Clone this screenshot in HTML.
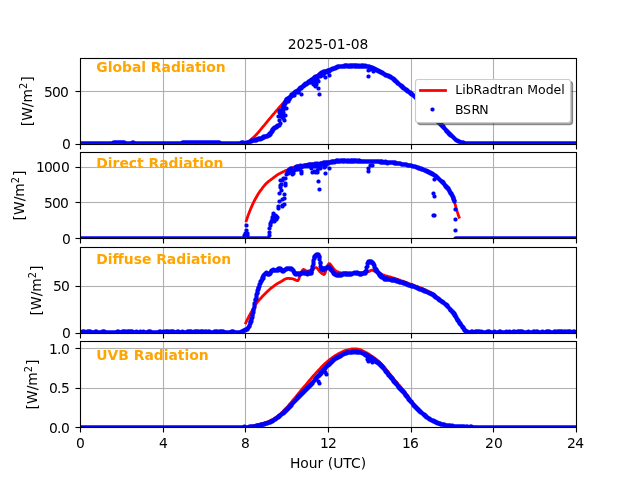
<!DOCTYPE html>
<html lang="en"><head><meta charset="utf-8"><title>2025-01-08 radiation</title>
<style>html,body{margin:0;padding:0;background:#fff;overflow:hidden}svg{display:block;will-change:transform}</style>
</head><body>
<svg width="640" height="480" viewBox="0 0 640 480" font-family="'DejaVu Sans','Liberation Sans',sans-serif" font-size="13.889" fill="#000">
<rect width="640" height="480" fill="#fff"/>
<defs>
<clipPath id="c0"><rect x="80.00" y="57.60" width="496.00" height="85.95"/></clipPath>
<clipPath id="c1"><rect x="80.00" y="152.15" width="496.00" height="85.95"/></clipPath>
<clipPath id="c2"><rect x="80.00" y="246.70" width="496.00" height="85.95"/></clipPath>
<clipPath id="c3"><rect x="80.00" y="341.25" width="496.00" height="85.95"/></clipPath>
<marker id="m" markerUnits="userSpaceOnUse" markerWidth="6" markerHeight="6" viewBox="-3 -3 6 6" refX="0" refY="0" overflow="visible"><polygon points="2.072,0.412 1.756,1.174 1.174,1.756 0.412,2.072 -0.412,2.072 -1.174,1.756 -1.756,1.174 -2.072,0.412 -2.072,-0.412 -1.756,-1.174 -1.174,-1.756 -0.412,-2.072 0.412,-2.072 1.174,-1.756 1.756,-1.174 2.072,-0.412" fill="#00f"/></marker>
</defs>
<g>
<path d="M163.5 59 V144 M245.5 59 V144 M328.5 59 V144 M411.5 59 V144 M493.5 59 V144" stroke="#b0b0b0" stroke-width="1.111" fill="none"/>
<rect x="81" y="90.945" width="495" height="1.111" fill="#b0b0b0"/>
<g clip-path="url(#c0)">
<path d="M245.4 143.4 L246.4 142.9 L247.4 142.4 L248.4 141.7 L249.4 140.9 L250.4 140.1 L251.4 139.3 L252.4 138.4 L253.4 137.5 L254.4 136.6 L255.4 135.6 L256.4 134.5 L257.4 133.4 L258.4 132.3 L259.4 131.1 L260.4 129.9 L261.4 128.7 L262.4 127.4 L263.4 126.2 L264.4 125.1 L265.4 123.9 L266.4 122.7 L267.4 121.5 L268.4 120.2 L269.4 119.0 L270.4 117.8 L271.4 116.6 L272.4 115.4 L273.4 114.2 L274.4 113.1 L275.4 111.9 L276.4 110.7 L277.4 109.6 L278.4 108.4 L279.4 107.3 L280.4 106.2 L281.4 105.1 L282.4 104.0 L283.4 102.9 L284.4 101.8 L285.4 100.7 L286.4 99.7 L287.4 98.7 L288.4 97.7 L289.4 96.8 L290.4 96.0 L291.4 95.1 L292.4 94.3 L293.4 93.5 L294.4 92.7 L295.4 91.9 L296.4 91.0 L297.4 90.2 L298.4 89.5 L299.4 88.7 L300.4 87.9 L301.4 87.1 L302.4 86.3 L303.4 85.6 L304.4 84.8 L305.4 84.1 L306.4 83.3 L307.4 82.6 L308.4 81.9 L309.4 81.1 L310.4 80.4 L311.4 79.7 L312.4 79.1 L313.4 78.5 L314.4 77.8 L315.4 77.2 L316.4 76.4 L317.4 75.5 L318.4 74.4 L319.4 73.7 L320.4 73.1 L321.4 72.7 L322.4 72.3 L323.4 71.9 L324.4 71.6 L325.4 71.3 L326.4 71.1 L327.4 70.8 L328.4 70.5 L329.4 70.2 L330.4 69.9 L331.4 69.5 L332.4 69.2 L333.4 68.8 L334.4 68.5 L335.4 68.1 L336.4 67.7 L337.4 67.3 L338.4 66.9 L339.4 66.6 L340.4 66.5 L341.4 66.3 L342.4 66.2 L343.4 66.2 L344.4 66.1 L345.4 66.0 L346.4 66.0 L347.4 66.0 L348.4 66.0 L349.4 66.0 L350.4 66.0 L351.4 66.0 L352.4 66.0 L353.4 66.0 L354.4 66.0 L355.4 66.0 L356.4 66.0 L357.4 66.0 L358.4 66.0 L359.4 66.0 L360.4 66.0 L361.4 66.0 L362.4 66.0 L363.4 66.1 L364.4 66.1 L365.4 66.2 L366.4 66.3 L367.4 66.4 L368.4 66.6 L369.4 66.9 L370.4 67.2 L371.4 67.5 L372.4 67.9 L373.4 68.3 L374.4 68.8 L375.4 69.3 L376.4 69.8 L377.4 70.3 L378.4 70.9 L379.4 71.4 L380.4 72.0 L381.4 72.5 L382.4 73.1 L383.4 73.7 L384.4 74.2 L385.4 74.7 L386.4 75.1 L387.4 75.6 L388.4 76.0 L389.4 76.5 L390.4 77.0 L391.4 77.6 L392.4 78.3 L393.4 79.1 L394.4 80.0 L395.4 80.8 L396.4 81.7 L397.4 82.6 L398.4 83.4 L399.4 84.3 L400.4 85.2 L401.4 86.1 L402.4 86.9 L403.4 87.7 L404.4 88.5 L405.4 89.3 L406.4 90.0 L407.4 90.8 L408.4 91.5 L409.4 92.3 L410.4 93.1 L411.4 93.9 L412.4 94.7 L413.4 95.6 L414.4 96.5 L415.4 97.4 L416.4 98.3 L417.4 99.3 L418.4 100.3 L419.4 101.4 L420.4 102.4 L421.4 103.5 L422.4 104.5 L423.4 105.6 L424.4 106.7 L425.4 107.8 L426.4 108.8 L427.4 109.9 L428.4 111.0 L429.4 112.0 L430.4 113.1 L431.4 114.2 L432.4 115.2 L433.4 116.3 L434.4 117.4 L435.4 118.5 L436.4 119.6 L437.4 120.7 L438.4 121.8 L439.4 122.8 L440.4 123.9 L441.4 125.1 L442.4 126.2 L443.4 127.3 L444.4 128.4 L445.4 129.5 L446.4 130.6 L447.4 131.6 L448.4 132.6 L449.4 133.6 L450.4 134.6 L451.4 135.6 L452.4 136.5 L453.4 137.4 L454.4 138.4 L455.4 139.3 L456.4 140.1 L457.4 140.7 L458.4 141.3 L459.4 141.7 L460.4 142.2 L461.4 142.5 L462.4 142.8 L463.4 143.0 L464.4 143.2 L465.4 143.3 L466.0 143.4" stroke="#f00" stroke-width="2.78" fill="none" stroke-linejoin="round" stroke-linecap="square"/>
<path d="M80.5 143.5 81.5 143.5 82.5 143.5 83.5 143.5 84.5 143.5 85.5 143.5 86.5 143.5 87.5 143.5 88.5 143.5 89.5 143.5 90.5 143.5 91.5 143.5 92.5 143.5 93.5 143.5 94.5 143.5 95.5 143.5 96.5 143.5 97.5 143.5 98.5 143.5 99.5 143.5 100.5 143.5 101.5 143.5 102.5 143.5 103.5 143.5 104.5 143.5 105.5 143.5 106.5 143.5 107.5 143.5 108.5 143.5 109.5 143.5 110.5 143.5 111.5 143.5 112.5 143.5 113.5 142.5 114.5 142.5 115.5 142.5 116.5 142.5 117.5 142.5 118.5 142.5 119.5 142.5 120.5 142.5 121.5 142.5 122.5 142.5 123.5 142.5 124.5 142.5 124.5 143.5 125.5 143.5 126.5 143.5 127.5 143.5 128.5 143.5 129.5 143.5 130.5 143.5 131.5 143.5 132.5 142.5 133.5 142.5 134.5 143.5 135.5 143.5 136.5 143.5 137.5 143.5 138.5 143.5 139.5 143.5 140.5 143.5 141.5 143.5 142.5 143.5 143.5 143.5 144.5 143.5 145.5 143.5 146.5 143.5 147.5 143.5 148.5 143.5 149.5 143.5 150.5 143.5 151.5 143.5 152.5 143.5 153.5 143.5 154.5 143.5 155.5 143.5 156.5 143.5 157.5 143.5 158.5 143.5 159.5 143.5 160.5 143.5 161.5 143.5 162.5 143.5 163.5 143.5 164.5 143.5 165.5 143.5 166.5 143.5 167.5 143.5 168.5 143.5 169.5 143.5 170.5 143.5 171.5 143.5 172.5 143.5 173.5 143.5 174.5 143.5 175.5 143.5 176.5 143.5 177.5 143.5 178.5 143.5 179.5 143.5 180.5 143.5 181.5 143.5 182.5 142.5 183.5 142.5 184.5 142.5 185.5 142.5 186.5 142.5 187.5 142.5 188.5 142.5 189.5 142.5 190.5 142.5 191.5 142.5 192.5 142.5 193.5 142.5 194.5 142.5 195.5 142.5 196.5 142.5 197.5 142.5 198.5 142.5 199.5 142.5 200.5 142.5 201.5 142.5 202.5 142.5 203.5 142.5 204.5 142.5 205.5 142.5 206.5 142.5 207.5 142.5 208.5 142.5 209.5 142.5 210.5 142.5 211.5 142.5 212.5 142.5 213.5 142.5 214.5 142.5 215.5 142.5 216.5 142.5 217.5 142.5 218.5 142.5 219.5 142.5 220.5 143.5 221.5 143.5 222.5 143.5 223.5 143.5 224.5 143.5 225.5 143.5 226.5 143.5 227.5 143.5 228.5 143.5 229.5 143.5 230.5 143.5 231.5 143.5 232.5 143.5 233.5 143.5 234.5 143.5 235.5 143.5 236.5 143.5 237.5 143.5 238.5 143.5 239.5 143.5 240.5 143.5 241.5 142.5 242.5 142.5 243.5 142.5 243.5 143.5 244.5 143.5 245.5 143.5 246.5 143.5 246.5 142.5 247.5 143.5 247.5 142.5 248.5 142.5 249.5 142.5 250.5 142.5 250.5 141.5 251.5 141.5 251.5 140.5 252.5 140.5 253.5 140.5 254.5 140.5 255.5 140.5 255.5 139.5 256.5 140.5 256.5 139.5 257.5 139.5 258.5 139.5 258.5 138.5 259.5 138.5 260.5 138.5 260.5 139.5 261.5 138.5 262.5 138.5 262.5 137.5 263.5 137.5 263.5 136.5 264.5 137.5 264.5 136.5 265.5 136.5 266.5 136.5 267.5 136.5 267.5 135.5 268.5 135.5 269.5 135.5 269.5 133.5 270.5 134.5 270.5 133.5 271.5 132.5 271.5 131.5 272.5 131.5 272.5 130.5 272.5 129.5 273.5 129.5 273.5 128.5 274.5 128.5 274.5 127.5 275.5 127.5 276.5 127.5 276.5 126.5 277.5 126.5 277.5 125.5 278.5 125.5 279.5 125.5 279.5 112.5 280.5 116.5 280.5 112.5 280.5 123.5 281.5 111.5 281.5 112.5 282.5 108.5 282.5 116.5 282.5 113.5 283.5 107.5 283.5 109.5 283.5 105.5 284.5 108.5 284.5 105.5 284.5 103.5 285.5 102.5 285.5 103.5 285.5 101.5 286.5 99.5 286.5 99.5 287.5 101.5 287.5 98.5 287.5 100.5 288.5 98.5 288.5 101.5 289.5 99.5 289.5 98.5 289.5 97.5 290.5 97.5 290.5 96.5 291.5 96.5 291.5 94.5 292.5 95.5 292.5 94.5 293.5 95.5 293.5 94.5 293.5 93.5 294.5 93.5 294.5 92.5 294.5 95.5 295.5 91.5 295.5 92.5 296.5 91.5 297.5 91.5 297.5 92.5 297.5 90.5 298.5 91.5 298.5 92.5 298.5 90.5 299.5 89.5 299.5 88.5 300.5 88.5 300.5 87.5 301.5 88.5 301.5 87.5 302.5 86.5 303.5 86.5 303.5 85.5 304.5 84.5 304.5 85.5 305.5 84.5 305.5 83.5 306.5 83.5 306.5 84.5 307.5 83.5 308.5 82.5 308.5 81.5 309.5 81.5 309.5 82.5 310.5 82.5 310.5 80.5 310.5 81.5 311.5 79.5 311.5 81.5 312.5 81.5 312.5 79.5 313.5 80.5 313.5 78.5 313.5 79.5 314.5 78.5 314.5 77.5 315.5 77.5 315.5 76.5 316.5 77.5 316.5 76.5 317.5 76.5 318.5 75.5 318.5 76.5 319.5 74.5 320.5 73.5 320.5 76.5 321.5 72.5 321.5 74.5 321.5 73.5 322.5 74.5 322.5 73.5 323.5 73.5 323.5 74.5 323.5 71.5 324.5 72.5 324.5 71.5 324.5 73.5 325.5 71.5 326.5 71.5 327.5 72.5 327.5 70.5 328.5 70.5 329.5 71.5 329.5 70.5 330.5 69.5 331.5 69.5 332.5 69.5 332.5 68.5 333.5 68.5 334.5 68.5 335.5 68.5 335.5 67.5 336.5 67.5 337.5 67.5 337.5 66.5 338.5 66.5 339.5 66.5 340.5 66.5 341.5 66.5 342.5 66.5 343.5 66.5 344.5 66.5 344.5 65.5 345.5 66.5 345.5 65.5 346.5 65.5 347.5 65.5 347.5 66.5 348.5 66.5 349.5 65.5 349.5 66.5 350.5 66.5 350.5 65.5 351.5 66.5 351.5 65.5 352.5 65.5 352.5 66.5 353.5 65.5 354.5 65.5 354.5 66.5 355.5 65.5 355.5 66.5 356.5 66.5 356.5 65.5 357.5 65.5 357.5 66.5 358.5 66.5 359.5 66.5 359.5 65.5 360.5 66.5 361.5 65.5 361.5 66.5 362.5 66.5 362.5 65.5 363.5 65.5 363.5 66.5 364.5 66.5 365.5 66.5 365.5 65.5 366.5 66.5 367.5 66.5 368.5 66.5 369.5 67.5 369.5 66.5 370.5 67.5 371.5 67.5 372.5 67.5 372.5 68.5 373.5 68.5 374.5 68.5 374.5 69.5 375.5 69.5 376.5 69.5 376.5 70.5 377.5 70.5 378.5 70.5 378.5 71.5 379.5 71.5 380.5 71.5 380.5 72.5 381.5 72.5 382.5 72.5 382.5 73.5 383.5 73.5 384.5 74.5 385.5 74.5 385.5 75.5 386.5 75.5 387.5 75.5 388.5 75.5 388.5 76.5 389.5 76.5 390.5 76.5 390.5 77.5 391.5 77.5 392.5 78.5 393.5 78.5 393.5 79.5 394.5 79.5 394.5 80.5 395.5 80.5 395.5 81.5 396.5 81.5 397.5 82.5 397.5 83.5 398.5 83.5 399.5 84.5 400.5 85.5 401.5 85.5 401.5 86.5 402.5 86.5 402.5 87.5 403.5 87.5 403.5 88.5 404.5 88.5 405.5 89.5 406.5 89.5 406.5 90.5 407.5 90.5 407.5 91.5 408.5 91.5 409.5 92.5 410.5 92.5 410.5 93.5 411.5 93.5 411.5 94.5 412.5 94.5 413.5 95.5 414.5 96.5 415.5 96.5 415.5 97.5 416.5 98.5 417.5 99.5 418.5 100.5 419.5 101.5 419.5 102.5 420.5 102.5 421.5 103.5 422.5 103.5 422.5 104.5 423.5 105.5 423.5 106.5 424.5 106.5 424.5 107.5 425.5 107.5 425.5 108.5 426.5 108.5 426.5 109.5 427.5 109.5 427.5 110.5 428.5 110.5 428.5 111.5 429.5 111.5 429.5 112.5 430.5 112.5 430.5 113.5 431.5 113.5 431.5 114.5 432.5 114.5 432.5 115.5 433.5 115.5 433.5 116.5 434.5 117.5 435.5 118.5 436.5 119.5 436.5 120.5 437.5 120.5 437.5 121.5 438.5 121.5 438.5 122.5 439.5 122.5 439.5 123.5 440.5 123.5 440.5 124.5 441.5 124.5 441.5 125.5 442.5 125.5 442.5 126.5 443.5 126.5 443.5 127.5 444.5 128.5 445.5 129.5 446.5 130.5 446.5 131.5 447.5 131.5 448.5 132.5 448.5 133.5 449.5 133.5 449.5 134.5 450.5 134.5 450.5 135.5 451.5 135.5 452.5 136.5 453.5 137.5 454.5 138.5 455.5 139.5 456.5 140.5 457.5 140.5 458.5 141.5 459.5 141.5 459.5 142.5 460.5 142.5 461.5 142.5 462.5 142.5 463.5 142.5 463.5 143.5 464.5 143.5 465.5 143.5 466.5 143.5 467.5 143.5 468.5 143.5 469.5 143.5 470.5 143.5 471.5 143.5 472.5 143.5 473.5 143.5 474.5 143.5 475.5 143.5 476.5 143.5 477.5 143.5 478.5 143.5 479.5 143.5 480.5 143.5 481.5 143.5 482.5 143.5 483.5 143.5 484.5 143.5 485.5 143.5 486.5 143.5 487.5 143.5 488.5 143.5 489.5 143.5 490.5 143.5 491.5 143.5 492.5 143.5 493.5 143.5 494.5 143.5 495.5 143.5 496.5 143.5 497.5 143.5 498.5 143.5 499.5 143.5 500.5 143.5 501.5 143.5 502.5 143.5 503.5 143.5 504.5 143.5 505.5 143.5 506.5 143.5 507.5 143.5 508.5 143.5 509.5 143.5 510.5 143.5 511.5 143.5 512.5 143.5 513.5 143.5 514.5 143.5 515.5 143.5 516.5 143.5 517.5 143.5 518.5 143.5 519.5 143.5 520.5 143.5 521.5 143.5 522.5 143.5 523.5 143.5 524.5 143.5 525.5 143.5 526.5 143.5 527.5 143.5 528.5 143.5 529.5 143.5 530.5 143.5 531.5 143.5 532.5 143.5 533.5 143.5 534.5 143.5 535.5 143.5 536.5 143.5 537.5 143.5 538.5 143.5 539.5 143.5 540.5 143.5 541.5 143.5 542.5 143.5 543.5 143.5 544.5 143.5 545.5 143.5 546.5 143.5 547.5 143.5 548.5 143.5 549.5 143.5 550.5 143.5 551.5 143.5 552.5 143.5 553.5 143.5 554.5 143.5 555.5 143.5 556.5 143.5 557.5 143.5 558.5 143.5 559.5 143.5 560.5 143.5 561.5 143.5 562.5 143.5 563.5 143.5 564.5 143.5 565.5 143.5 566.5 143.5 567.5 143.5 568.5 143.5 569.5 143.5 570.5 143.5 571.5 143.5 572.5 143.5 573.5 143.5 574.5 143.5 575.5 143.5 576.5 143.5 301.5 94.5 318.5 88.5 319.5 94.5 315.5 85.5 313.5 84.5 318.5 81.5 325.5 77.5 329.5 75.5 322.5 75.5 279.5 110.5 280.5 114.5 278.5 116.5 283.5 112.5 286.5 108.5 283.5 118.5 279.5 120.5 284.5 120.5 282.5 117.5 285.5 115.5 368.5 76.5 368.5 70.5 373.5 71.5 370.5 69.5 313.5 79.5 315.5 81.5 312.5 82.5 316.5 84.5 315.5 86.5 314.5 77.5 317.5 79.5" fill="none" stroke="none" marker-start="url(#m)" marker-mid="url(#m)" marker-end="url(#m)"/>
</g>
<path d="M80.5 145 V149.5 M163.5 145 V149.5 M245.5 145 V149.5 M328.5 145 V149.5 M411.5 145 V149.5 M493.5 145 V149.5 M576.5 145 V149.5" stroke="#000" stroke-width="1.111" fill="none"/>
<rect x="75.5" y="143.945" width="4.5" height="1.111"/>
<rect x="75.5" y="90.945" width="4.5" height="1.111"/>
<rect x="80.5" y="58.5" width="496" height="86" fill="none" stroke="#000" stroke-width="1.111" stroke-linejoin="miter"/>
<text x="62" y="148.8">0</text>
<text x="44 52 60" y="96.8">500</text>
</g>
<g>
<path d="M163.5 153 V238 M245.5 153 V238 M328.5 153 V238 M411.5 153 V238 M493.5 153 V238" stroke="#b0b0b0" stroke-width="1.111" fill="none"/>
<rect x="81" y="201.945" width="495" height="1.111" fill="#b0b0b0"/>
<rect x="81" y="166.945" width="495" height="1.111" fill="#b0b0b0"/>
<g clip-path="url(#c1)">
<path d="M246.3 220.7 L247.3 217.8 L248.3 214.9 L249.3 212.3 L250.3 209.8 L251.3 207.4 L252.3 205.1 L253.3 202.9 L254.3 200.9 L255.3 199.0 L256.3 197.2 L257.3 195.5 L258.3 193.8 L259.3 192.3 L260.3 190.9 L261.3 189.6 L262.3 188.2 L263.3 186.9 L264.3 185.7 L265.3 184.5 L266.3 183.4 L267.3 182.5 L268.3 181.6 L269.3 180.9 L270.3 180.2 L271.3 179.4 L272.3 178.7 L273.3 177.9 L274.3 177.1 L275.3 176.3 L276.3 175.6 L277.3 174.9 L278.3 174.3 L279.3 173.7 L280.3 173.2 L281.3 172.6 L282.3 172.2 L283.3 171.7 L284.3 171.3 L285.3 170.8 L286.3 170.4 L287.3 169.9 L288.3 169.4 L289.3 168.9 L290.3 168.5 L291.3 168.1 L292.3 167.7 L293.3 167.3 L294.3 167.0 L295.3 166.7 L296.3 166.4 L297.3 166.1 L298.3 165.9 L299.3 165.6 L300.3 165.4 L301.3 165.3 L302.3 165.1 L303.3 165.0 L304.3 164.8 L305.3 164.7 L306.3 164.6 L307.3 164.5 L308.3 164.4 L309.3 164.3 L310.3 164.2 L311.3 164.1 L312.3 164.0 L313.3 163.9 L314.3 163.8 L315.3 163.7 L316.3 163.6 L317.3 163.5 L318.3 163.3 L319.3 163.2 L320.3 163.0 L321.3 162.9 L322.3 162.8 L323.3 162.6 L324.3 162.5 L325.3 162.3 L326.3 162.2 L327.3 162.1 L328.3 161.9 L329.3 161.8 L330.3 161.6 L331.3 161.5 L332.3 161.3 L333.3 161.2 L334.3 161.2 L335.3 161.1 L336.3 161.1 L337.3 161.1 L338.3 161.1 L339.3 161.1 L340.3 161.1 L341.3 161.1 L342.3 161.1 L343.3 161.1 L344.3 161.1 L345.3 161.1 L346.3 161.1 L347.3 161.1 L348.3 161.1 L349.3 161.1 L350.3 161.1 L351.3 161.0 L352.3 161.0 L353.3 161.0 L354.3 161.0 L355.3 161.0 L356.3 161.0 L357.3 161.0 L358.3 161.0 L359.3 161.1 L360.3 161.1 L361.3 161.1 L362.3 161.2 L363.3 161.2 L364.3 161.2 L365.3 161.3 L366.3 161.3 L367.3 161.3 L368.3 161.4 L369.3 161.4 L370.3 161.5 L371.3 161.5 L372.3 161.6 L373.3 161.6 L374.3 161.6 L375.3 161.7 L376.3 161.7 L377.3 161.7 L378.3 161.8 L379.3 161.8 L380.3 161.9 L381.3 161.9 L382.3 161.9 L383.3 162.0 L384.3 162.0 L385.3 162.1 L386.3 162.2 L387.3 162.2 L388.3 162.3 L389.3 162.4 L390.3 162.5 L391.3 162.6 L392.3 162.7 L393.3 162.8 L394.3 162.9 L395.3 163.0 L396.3 163.2 L397.3 163.3 L398.3 163.4 L399.3 163.6 L400.3 163.7 L401.3 163.9 L402.3 164.1 L403.3 164.2 L404.3 164.4 L405.3 164.6 L406.3 164.8 L407.3 165.0 L408.3 165.2 L409.3 165.4 L410.3 165.6 L411.3 165.9 L412.3 166.1 L413.3 166.4 L414.3 166.6 L415.3 166.9 L416.3 167.2 L417.3 167.5 L418.3 167.8 L419.3 168.2 L420.3 168.5 L421.3 168.9 L422.3 169.2 L423.3 169.6 L424.3 170.0 L425.3 170.4 L426.3 170.9 L427.3 171.3 L428.3 171.8 L429.3 172.3 L430.3 172.8 L431.3 173.4 L432.3 173.9 L433.3 174.5 L434.3 175.2 L435.3 175.8 L436.3 176.6 L437.3 177.3 L438.3 178.1 L439.3 179.0 L440.3 180.0 L441.3 181.0 L442.3 182.1 L443.3 183.2 L444.3 184.3 L445.3 185.4 L446.3 186.6 L447.3 187.8 L448.3 189.1 L449.3 190.6 L450.3 192.1 L451.3 193.7 L452.3 195.6 L453.3 198.0 L454.3 201.3 L455.3 204.8 L456.3 208.5 L457.3 211.9 L458.3 215.0 L459.1 217.2" stroke="#f00" stroke-width="2.78" fill="none" stroke-linejoin="round" stroke-linecap="square"/>
<path d="M80.5 238.5 81.5 238.5 82.5 238.5 83.5 238.5 84.5 238.5 85.5 238.5 86.5 238.5 87.5 238.5 88.5 238.5 89.5 238.5 90.5 238.5 91.5 238.5 92.5 238.5 93.5 238.5 94.5 238.5 95.5 238.5 96.5 238.5 97.5 238.5 98.5 238.5 99.5 238.5 100.5 238.5 101.5 238.5 102.5 238.5 103.5 238.5 104.5 238.5 105.5 238.5 106.5 238.5 107.5 238.5 108.5 238.5 109.5 238.5 110.5 238.5 111.5 238.5 112.5 238.5 113.5 238.5 114.5 238.5 115.5 238.5 116.5 238.5 117.5 238.5 118.5 238.5 119.5 238.5 120.5 238.5 121.5 238.5 122.5 238.5 123.5 238.5 124.5 238.5 125.5 238.5 126.5 238.5 127.5 238.5 128.5 238.5 129.5 238.5 130.5 238.5 131.5 238.5 132.5 238.5 133.5 238.5 134.5 238.5 135.5 238.5 136.5 238.5 137.5 238.5 138.5 238.5 139.5 238.5 140.5 238.5 141.5 238.5 142.5 238.5 143.5 238.5 144.5 238.5 145.5 238.5 146.5 238.5 147.5 238.5 148.5 238.5 149.5 238.5 150.5 238.5 151.5 238.5 152.5 238.5 153.5 238.5 154.5 238.5 155.5 238.5 156.5 238.5 157.5 238.5 158.5 238.5 159.5 238.5 160.5 238.5 161.5 238.5 162.5 238.5 163.5 238.5 164.5 238.5 165.5 238.5 166.5 238.5 167.5 238.5 168.5 238.5 169.5 238.5 170.5 238.5 171.5 238.5 172.5 238.5 173.5 238.5 174.5 238.5 175.5 238.5 176.5 238.5 177.5 238.5 178.5 238.5 179.5 238.5 180.5 238.5 181.5 238.5 182.5 238.5 183.5 238.5 184.5 238.5 185.5 238.5 186.5 238.5 187.5 238.5 188.5 238.5 189.5 238.5 190.5 238.5 191.5 238.5 192.5 238.5 193.5 238.5 194.5 238.5 195.5 238.5 196.5 238.5 197.5 238.5 198.5 238.5 199.5 238.5 200.5 238.5 201.5 238.5 202.5 238.5 203.5 238.5 204.5 238.5 205.5 238.5 206.5 238.5 207.5 238.5 208.5 238.5 209.5 238.5 210.5 238.5 211.5 238.5 212.5 238.5 213.5 238.5 214.5 238.5 215.5 238.5 216.5 238.5 217.5 238.5 218.5 238.5 219.5 238.5 220.5 238.5 221.5 238.5 222.5 238.5 223.5 238.5 224.5 238.5 225.5 238.5 226.5 238.5 227.5 238.5 228.5 238.5 229.5 238.5 230.5 238.5 231.5 238.5 232.5 238.5 233.5 238.5 234.5 238.5 235.5 238.5 236.5 238.5 237.5 238.5 238.5 238.5 239.5 238.5 240.5 238.5 241.5 238.5 242.5 238.5 243.5 238.5 244.5 238.5 246.5 225.5 246.5 230.5 245.5 233.5 247.5 233.5 246.5 235.5 244.5 235.5 247.5 235.5 248.5 238.5 249.5 238.5 250.5 238.5 251.5 238.5 252.5 238.5 253.5 238.5 254.5 238.5 255.5 238.5 256.5 238.5 257.5 238.5 258.5 238.5 259.5 238.5 260.5 238.5 261.5 238.5 262.5 238.5 263.5 238.5 264.5 238.5 265.5 238.5 266.5 238.5 267.5 238.5 268.5 238.5 269.5 235.5 269.5 232.5 269.5 228.5 270.5 225.5 270.5 223.5 271.5 221.5 272.5 219.5 272.5 217.5 273.5 215.5 273.5 213.5 274.5 216.5 275.5 215.5 276.5 216.5 276.5 219.5 275.5 219.5 277.5 217.5 274.5 221.5 272.5 221.5 278.5 208.5 278.5 206.5 279.5 201.5 282.5 205.5 284.5 204.5 282.5 206.5 279.5 193.5 284.5 194.5 284.5 198.5 282.5 199.5 281.5 190.5 280.5 187.5 281.5 184.5 280.5 180.5 280.5 185.5 285.5 185.5 285.5 183.5 283.5 178.5 282.5 180.5 285.5 178.5 286.5 174.5 287.5 172.5 288.5 170.5 289.5 169.5 290.5 168.5 291.5 168.5 292.5 171.5 292.5 174.5 293.5 173.5 294.5 170.5 290.5 172.5 288.5 173.5 301.5 171.5 301.5 173.5 295.5 167.5 296.5 166.5 296.5 169.5 296.5 168.5 297.5 168.5 297.5 166.5 297.5 169.5 298.5 166.5 298.5 167.5 299.5 169.5 299.5 168.5 299.5 167.5 300.5 165.5 300.5 167.5 300.5 166.5 301.5 167.5 301.5 166.5 302.5 166.5 303.5 166.5 304.5 165.5 305.5 165.5 305.5 166.5 306.5 165.5 307.5 165.5 307.5 166.5 308.5 164.5 308.5 165.5 309.5 166.5 309.5 164.5 309.5 165.5 310.5 164.5 310.5 165.5 311.5 165.5 311.5 164.5 312.5 164.5 312.5 165.5 313.5 165.5 313.5 164.5 314.5 166.5 314.5 164.5 315.5 166.5 315.5 163.5 315.5 165.5 316.5 164.5 316.5 165.5 317.5 164.5 317.5 163.5 318.5 164.5 319.5 165.5 319.5 164.5 320.5 166.5 320.5 163.5 320.5 165.5 321.5 164.5 321.5 163.5 322.5 163.5 323.5 162.5 323.5 164.5 324.5 163.5 324.5 164.5 324.5 162.5 325.5 163.5 325.5 162.5 325.5 164.5 326.5 163.5 326.5 164.5 326.5 162.5 327.5 162.5 328.5 162.5 328.5 163.5 329.5 162.5 330.5 162.5 331.5 162.5 331.5 161.5 332.5 162.5 332.5 161.5 333.5 161.5 334.5 162.5 334.5 161.5 335.5 161.5 336.5 161.5 336.5 160.5 337.5 161.5 337.5 160.5 338.5 161.5 338.5 160.5 339.5 161.5 340.5 161.5 340.5 160.5 341.5 160.5 342.5 160.5 342.5 161.5 343.5 160.5 343.5 161.5 344.5 160.5 344.5 161.5 345.5 160.5 346.5 161.5 347.5 161.5 347.5 160.5 348.5 161.5 348.5 160.5 349.5 161.5 350.5 161.5 350.5 160.5 351.5 161.5 351.5 160.5 352.5 160.5 352.5 161.5 353.5 161.5 353.5 160.5 354.5 161.5 354.5 160.5 355.5 160.5 356.5 161.5 356.5 160.5 357.5 161.5 358.5 160.5 358.5 161.5 359.5 161.5 359.5 160.5 360.5 161.5 361.5 161.5 362.5 161.5 363.5 161.5 364.5 161.5 365.5 161.5 366.5 161.5 367.5 161.5 368.5 161.5 369.5 161.5 370.5 161.5 371.5 161.5 372.5 161.5 373.5 161.5 374.5 161.5 375.5 161.5 376.5 161.5 377.5 161.5 378.5 161.5 379.5 161.5 380.5 162.5 380.5 161.5 381.5 161.5 381.5 162.5 382.5 162.5 382.5 161.5 383.5 162.5 384.5 162.5 385.5 162.5 385.5 161.5 386.5 162.5 387.5 162.5 388.5 162.5 389.5 162.5 390.5 162.5 391.5 162.5 392.5 162.5 393.5 162.5 394.5 163.5 394.5 162.5 395.5 163.5 395.5 162.5 396.5 163.5 397.5 163.5 398.5 163.5 399.5 163.5 400.5 163.5 401.5 164.5 402.5 164.5 403.5 164.5 404.5 164.5 405.5 164.5 406.5 164.5 407.5 165.5 408.5 165.5 409.5 165.5 410.5 165.5 411.5 165.5 412.5 166.5 413.5 166.5 414.5 166.5 415.5 166.5 416.5 167.5 417.5 167.5 418.5 167.5 418.5 168.5 419.5 168.5 420.5 168.5 421.5 168.5 421.5 169.5 422.5 169.5 423.5 169.5 424.5 170.5 425.5 170.5 426.5 170.5 426.5 171.5 427.5 171.5 428.5 171.5 428.5 172.5 429.5 172.5 430.5 172.5 430.5 173.5 431.5 173.5 432.5 173.5 432.5 174.5 433.5 174.5 434.5 175.5 435.5 175.5 436.5 176.5 436.5 177.5 437.5 177.5 438.5 178.5 439.5 179.5 440.5 180.5 441.5 181.5 442.5 181.5 442.5 182.5 443.5 182.5 443.5 183.5 444.5 184.5 445.5 185.5 445.5 186.5 446.5 186.5 446.5 187.5 447.5 187.5 447.5 188.5 448.5 188.5 448.5 189.5 449.5 190.5 449.5 191.5 450.5 192.5 450.5 193.5 451.5 193.5 451.5 194.5 452.5 195.5 452.5 196.5 453.5 197.5 453.5 198.5 453.5 199.5 454.5 200.5 454.5 201.5 312.5 172.5 315.5 172.5 317.5 172.5 314.5 171.5 317.5 170.5 318.5 181.5 319.5 189.5 325.5 173.5 329.5 168.5 324.5 167.5 318.5 168.5 311.5 168.5 320.5 168.5 325.5 166.5 368.5 168.5 368.5 171.5 372.5 165.5 370.5 165.5 387.5 163.5 434.5 179.5 433.5 193.5 434.5 196.5 433.5 215.5 434.5 215.5 455.5 209.5 455.5 219.5 455.5 230.5 455.5 238.5 456.5 238.5 457.5 238.5 458.5 238.5 459.5 238.5 460.5 238.5 461.5 238.5 462.5 238.5 463.5 238.5 464.5 238.5 465.5 238.5 466.5 238.5 467.5 238.5 468.5 238.5 469.5 238.5 470.5 238.5 471.5 238.5 472.5 238.5 473.5 238.5 474.5 238.5 475.5 238.5 476.5 238.5 477.5 238.5 478.5 238.5 479.5 238.5 480.5 238.5 481.5 238.5 482.5 238.5 483.5 238.5 484.5 238.5 485.5 238.5 486.5 238.5 487.5 238.5 488.5 238.5 489.5 238.5 490.5 238.5 491.5 238.5 492.5 238.5 493.5 238.5 494.5 238.5 495.5 238.5 496.5 238.5 497.5 238.5 498.5 238.5 499.5 238.5 500.5 238.5 501.5 238.5 502.5 238.5 503.5 238.5 504.5 238.5 505.5 238.5 506.5 238.5 507.5 238.5 508.5 238.5 509.5 238.5 510.5 238.5 511.5 238.5 512.5 238.5 513.5 238.5 514.5 238.5 515.5 238.5 516.5 238.5 517.5 238.5 518.5 238.5 519.5 238.5 520.5 238.5 521.5 238.5 522.5 238.5 523.5 238.5 524.5 238.5 525.5 238.5 526.5 238.5 527.5 238.5 528.5 238.5 529.5 238.5 530.5 238.5 531.5 238.5 532.5 238.5 533.5 238.5 534.5 238.5 535.5 238.5 536.5 238.5 537.5 238.5 538.5 238.5 539.5 238.5 540.5 238.5 541.5 238.5 542.5 238.5 543.5 238.5 544.5 238.5 545.5 238.5 546.5 238.5 547.5 238.5 548.5 238.5 549.5 238.5 550.5 238.5 551.5 238.5 552.5 238.5 553.5 238.5 554.5 238.5 555.5 238.5 556.5 238.5 557.5 238.5 558.5 238.5 559.5 238.5 560.5 238.5 561.5 238.5 562.5 238.5 563.5 238.5 564.5 238.5 565.5 238.5 566.5 238.5 567.5 238.5 568.5 238.5 569.5 238.5 570.5 238.5 571.5 238.5 572.5 238.5 573.5 238.5 574.5 238.5 575.5 238.5 576.5 238.5" fill="none" stroke="none" marker-start="url(#m)" marker-mid="url(#m)" marker-end="url(#m)"/>
</g>
<path d="M80.5 239 V243.5 M163.5 239 V243.5 M245.5 239 V243.5 M328.5 239 V243.5 M411.5 239 V243.5 M493.5 239 V243.5 M576.5 239 V243.5" stroke="#000" stroke-width="1.111" fill="none"/>
<rect x="75.5" y="237.945" width="4.5" height="1.111"/>
<rect x="75.5" y="201.945" width="4.5" height="1.111"/>
<rect x="75.5" y="166.945" width="4.5" height="1.111"/>
<rect x="80.5" y="152.5" width="496" height="86" fill="none" stroke="#000" stroke-width="1.111" stroke-linejoin="miter"/>
<text x="62" y="243.8">0</text>
<text x="44 52 60" y="207.8">500</text>
<text x="36 44 52 61" y="171.8">1000</text>
</g>
<g>
<path d="M163.5 248 V333 M245.5 248 V333 M328.5 248 V333 M411.5 248 V333 M493.5 248 V333" stroke="#b0b0b0" stroke-width="1.111" fill="none"/>
<rect x="81" y="285.945" width="495" height="1.111" fill="#b0b0b0"/>
<g clip-path="url(#c2)">
<path d="M245.8 322.8 L246.8 320.7 L247.8 318.6 L248.8 316.7 L249.8 314.8 L250.8 312.9 L251.8 311.2 L252.8 309.4 L253.8 307.6 L254.8 305.9 L255.8 304.4 L256.8 303.0 L257.8 301.7 L258.8 300.4 L259.8 299.3 L260.8 298.2 L261.8 297.1 L262.8 296.1 L263.8 295.1 L264.8 294.1 L265.8 293.1 L266.8 292.1 L267.8 291.1 L268.8 290.2 L269.8 289.3 L270.8 288.4 L271.8 287.6 L272.8 286.8 L273.8 286.1 L274.8 285.4 L275.8 284.7 L276.8 284.0 L277.8 283.4 L278.8 282.8 L279.8 282.3 L280.8 281.7 L281.8 281.1 L282.8 280.5 L283.8 279.8 L284.8 279.3 L285.8 278.8 L286.8 278.5 L287.8 278.4 L288.8 278.4 L289.8 278.5 L290.8 278.6 L291.8 278.7 L292.8 278.8 L293.8 279.2 L294.8 279.6 L295.8 280.1 L296.8 280.5 L297.8 280.6 L298.8 279.2 L299.8 275.8 L300.8 273.0 L301.8 271.2 L302.8 269.8 L303.8 269.4 L304.8 269.9 L305.8 270.6 L306.8 271.2 L307.8 271.2 L308.8 270.9 L309.8 270.4 L310.8 269.9 L311.8 269.4 L312.8 268.7 L313.8 268.1 L314.8 267.7 L315.8 267.5 L316.8 268.0 L317.8 269.0 L318.8 270.3 L319.8 271.6 L320.8 272.5 L321.8 273.4 L322.8 274.1 L323.8 274.6 L324.8 273.9 L325.8 270.8 L326.8 267.6 L327.8 265.3 L328.8 263.6 L329.8 263.6 L330.8 264.8 L331.8 266.4 L332.8 267.7 L333.8 268.9 L334.8 270.0 L335.8 270.9 L336.8 271.5 L337.8 271.9 L338.8 272.3 L339.8 272.5 L340.8 272.7 L341.8 272.8 L342.8 272.9 L343.8 273.0 L344.8 273.0 L345.8 273.1 L346.8 273.1 L347.8 273.1 L348.8 273.1 L349.8 273.1 L350.8 273.1 L351.8 273.1 L352.8 273.1 L353.8 273.1 L354.8 273.1 L355.8 273.1 L356.8 273.1 L357.8 273.1 L358.8 273.1 L359.8 273.1 L360.8 273.1 L361.8 273.0 L362.8 272.8 L363.8 272.6 L364.8 272.4 L365.8 272.2 L366.8 272.1 L367.8 272.0 L368.8 271.7 L369.8 271.0 L370.8 270.3 L371.8 270.2 L372.8 270.4 L373.8 270.8 L374.8 271.1 L375.8 271.4 L376.8 271.8 L377.8 272.1 L378.8 272.6 L379.8 273.1 L380.8 273.6 L381.8 274.2 L382.8 274.7 L383.8 275.1 L384.8 275.5 L385.8 275.8 L386.8 276.1 L387.8 276.4 L388.8 276.6 L389.8 276.9 L390.8 277.2 L391.8 277.5 L392.8 277.8 L393.8 278.1 L394.8 278.4 L395.8 278.7 L396.8 279.1 L397.8 279.4 L398.8 279.8 L399.8 280.1 L400.8 280.5 L401.8 280.8 L402.8 281.2 L403.8 281.5 L404.8 281.9 L405.8 282.3 L406.8 282.7 L407.8 283.1 L408.8 283.5 L409.8 283.8 L410.8 284.2 L411.8 284.6 L412.8 285.0 L413.8 285.4 L414.8 285.7 L415.8 286.1 L416.8 286.5 L417.8 286.9 L418.8 287.2 L419.8 287.6 L420.8 288.0 L421.8 288.4 L422.8 288.8 L423.8 289.2 L424.8 289.6 L425.8 290.0 L426.8 290.5 L427.8 290.9 L428.8 291.4 L429.8 292.0 L430.8 292.6 L431.8 293.3 L432.8 294.0 L433.8 294.7 L434.8 295.5 L435.8 296.2 L436.8 296.9 L437.8 297.7 L438.8 298.5 L439.8 299.3 L440.8 300.1 L441.8 301.0 L442.8 301.8 L443.8 302.7 L444.8 303.6 L445.8 304.5 L446.8 305.4 L447.8 306.5 L448.8 307.5 L449.8 308.6 L450.8 309.8 L451.8 311.1 L452.8 312.3 L453.8 313.7 L454.8 315.2 L455.8 316.7 L456.8 318.3 L457.8 319.8 L458.8 321.3 L459.8 322.8 L460.8 324.3 L461.8 325.8 L462.8 327.3 L463.8 328.7 L464.8 330.0 L465.5 331.0" stroke="#f00" stroke-width="2.78" fill="none" stroke-linejoin="round" stroke-linecap="square"/>
<path d="M80.5 332.5 81.5 332.5 82.5 332.5 82.5 331.5 83.5 331.5 83.5 332.5 84.5 331.5 84.5 332.5 85.5 332.5 86.5 332.5 87.5 331.5 88.5 331.5 89.5 331.5 90.5 332.5 90.5 331.5 91.5 332.5 92.5 332.5 93.5 332.5 94.5 332.5 95.5 332.5 95.5 331.5 96.5 331.5 96.5 332.5 97.5 332.5 98.5 332.5 99.5 332.5 100.5 332.5 101.5 332.5 102.5 331.5 103.5 331.5 104.5 331.5 105.5 332.5 106.5 332.5 107.5 332.5 108.5 332.5 109.5 332.5 110.5 332.5 111.5 332.5 112.5 332.5 113.5 332.5 114.5 332.5 115.5 332.5 116.5 332.5 117.5 331.5 118.5 331.5 118.5 332.5 119.5 332.5 120.5 332.5 121.5 332.5 122.5 332.5 122.5 331.5 123.5 331.5 124.5 331.5 124.5 332.5 125.5 331.5 125.5 332.5 126.5 332.5 127.5 332.5 127.5 331.5 128.5 332.5 128.5 331.5 129.5 331.5 130.5 331.5 131.5 331.5 132.5 331.5 132.5 332.5 133.5 332.5 134.5 332.5 135.5 332.5 136.5 331.5 136.5 332.5 137.5 332.5 138.5 332.5 139.5 332.5 140.5 331.5 140.5 332.5 141.5 332.5 142.5 332.5 143.5 332.5 143.5 331.5 144.5 332.5 145.5 332.5 146.5 332.5 147.5 332.5 148.5 331.5 148.5 332.5 149.5 332.5 149.5 331.5 150.5 331.5 151.5 332.5 152.5 332.5 153.5 332.5 154.5 332.5 155.5 332.5 156.5 332.5 157.5 332.5 158.5 332.5 159.5 332.5 159.5 331.5 160.5 331.5 160.5 332.5 161.5 332.5 162.5 332.5 163.5 331.5 163.5 332.5 164.5 332.5 165.5 332.5 165.5 331.5 166.5 331.5 166.5 332.5 167.5 331.5 168.5 332.5 168.5 331.5 169.5 332.5 170.5 332.5 170.5 331.5 171.5 331.5 172.5 331.5 173.5 331.5 173.5 332.5 174.5 332.5 175.5 332.5 176.5 332.5 177.5 332.5 177.5 331.5 178.5 332.5 178.5 331.5 179.5 332.5 180.5 332.5 181.5 332.5 182.5 332.5 182.5 331.5 183.5 332.5 184.5 332.5 185.5 332.5 186.5 332.5 187.5 331.5 188.5 331.5 189.5 331.5 190.5 331.5 191.5 331.5 192.5 332.5 193.5 332.5 194.5 332.5 194.5 331.5 195.5 332.5 195.5 331.5 196.5 331.5 197.5 331.5 198.5 331.5 199.5 332.5 200.5 332.5 200.5 331.5 201.5 331.5 202.5 332.5 202.5 331.5 203.5 331.5 203.5 332.5 204.5 332.5 205.5 331.5 206.5 331.5 206.5 332.5 207.5 332.5 208.5 331.5 209.5 331.5 210.5 332.5 211.5 332.5 212.5 332.5 213.5 332.5 214.5 332.5 214.5 331.5 215.5 331.5 216.5 331.5 217.5 331.5 217.5 332.5 218.5 332.5 219.5 332.5 219.5 331.5 220.5 331.5 221.5 331.5 222.5 331.5 223.5 331.5 223.5 332.5 224.5 332.5 225.5 332.5 226.5 332.5 227.5 332.5 228.5 332.5 229.5 332.5 230.5 332.5 231.5 332.5 231.5 331.5 232.5 331.5 233.5 331.5 233.5 332.5 234.5 332.5 235.5 332.5 236.5 332.5 237.5 332.5 238.5 332.5 239.5 332.5 240.5 332.5 241.5 331.5 242.5 331.5 243.5 330.5 243.5 331.5 244.5 330.5 245.5 330.5 245.5 329.5 246.5 329.5 247.5 328.5 247.5 329.5 248.5 327.5 249.5 326.5 249.5 325.5 250.5 323.5 250.5 322.5 250.5 321.5 251.5 321.5 251.5 319.5 251.5 318.5 252.5 317.5 252.5 315.5 252.5 314.5 253.5 312.5 253.5 310.5 253.5 309.5 254.5 307.5 254.5 305.5 254.5 303.5 255.5 300.5 255.5 299.5 256.5 298.5 256.5 296.5 256.5 294.5 257.5 293.5 257.5 292.5 257.5 290.5 258.5 289.5 258.5 288.5 258.5 287.5 259.5 286.5 259.5 284.5 260.5 283.5 260.5 281.5 261.5 280.5 261.5 281.5 262.5 279.5 262.5 278.5 262.5 277.5 263.5 278.5 263.5 276.5 263.5 275.5 264.5 274.5 265.5 273.5 266.5 272.5 266.5 273.5 267.5 273.5 267.5 274.5 268.5 274.5 269.5 274.5 269.5 273.5 270.5 273.5 270.5 272.5 271.5 271.5 271.5 270.5 272.5 270.5 273.5 269.5 273.5 270.5 274.5 270.5 275.5 270.5 276.5 270.5 277.5 270.5 277.5 269.5 278.5 270.5 278.5 269.5 278.5 268.5 279.5 268.5 279.5 269.5 280.5 269.5 280.5 268.5 281.5 269.5 281.5 270.5 282.5 270.5 282.5 271.5 283.5 271.5 283.5 270.5 284.5 270.5 285.5 269.5 286.5 269.5 286.5 268.5 287.5 268.5 288.5 268.5 289.5 268.5 290.5 268.5 290.5 269.5 291.5 268.5 292.5 269.5 293.5 270.5 293.5 271.5 294.5 272.5 294.5 273.5 295.5 273.5 295.5 274.5 296.5 273.5 296.5 274.5 297.5 273.5 298.5 273.5 298.5 274.5 299.5 273.5 299.5 274.5 300.5 273.5 300.5 274.5 301.5 273.5 302.5 272.5 303.5 273.5 303.5 272.5 304.5 273.5 304.5 272.5 305.5 272.5 305.5 273.5 306.5 273.5 307.5 274.5 307.5 272.5 308.5 273.5 308.5 272.5 309.5 273.5 310.5 273.5 310.5 272.5 311.5 273.5 311.5 272.5 311.5 271.5 312.5 269.5 312.5 268.5 312.5 266.5 313.5 264.5 313.5 262.5 313.5 260.5 314.5 258.5 314.5 257.5 314.5 256.5 315.5 256.5 315.5 255.5 316.5 254.5 316.5 255.5 317.5 254.5 318.5 254.5 318.5 255.5 319.5 256.5 319.5 257.5 319.5 259.5 320.5 262.5 320.5 263.5 320.5 266.5 321.5 267.5 321.5 268.5 321.5 269.5 322.5 269.5 322.5 268.5 323.5 270.5 323.5 269.5 323.5 268.5 324.5 268.5 325.5 268.5 326.5 268.5 326.5 267.5 327.5 267.5 328.5 266.5 328.5 267.5 329.5 267.5 330.5 268.5 330.5 269.5 331.5 269.5 331.5 270.5 332.5 271.5 333.5 272.5 333.5 273.5 334.5 273.5 334.5 274.5 335.5 274.5 336.5 275.5 336.5 274.5 337.5 275.5 338.5 274.5 338.5 275.5 339.5 275.5 340.5 275.5 340.5 274.5 341.5 274.5 341.5 275.5 342.5 274.5 343.5 274.5 343.5 273.5 344.5 273.5 345.5 273.5 345.5 274.5 346.5 273.5 346.5 274.5 347.5 274.5 347.5 273.5 348.5 274.5 349.5 273.5 349.5 274.5 350.5 274.5 350.5 273.5 351.5 274.5 352.5 273.5 353.5 273.5 354.5 272.5 355.5 273.5 356.5 273.5 356.5 272.5 357.5 272.5 357.5 273.5 358.5 273.5 359.5 273.5 359.5 274.5 360.5 274.5 360.5 273.5 361.5 273.5 361.5 274.5 362.5 273.5 363.5 273.5 364.5 273.5 364.5 272.5 365.5 273.5 365.5 271.5 366.5 271.5 366.5 270.5 366.5 267.5 367.5 266.5 367.5 263.5 368.5 262.5 368.5 261.5 369.5 261.5 369.5 262.5 370.5 262.5 370.5 261.5 371.5 261.5 371.5 262.5 372.5 262.5 373.5 263.5 373.5 264.5 374.5 265.5 374.5 267.5 375.5 268.5 375.5 270.5 376.5 270.5 376.5 269.5 376.5 271.5 377.5 271.5 377.5 272.5 378.5 272.5 378.5 273.5 379.5 274.5 379.5 275.5 380.5 274.5 380.5 275.5 380.5 276.5 381.5 276.5 381.5 277.5 382.5 276.5 382.5 277.5 383.5 277.5 384.5 278.5 384.5 279.5 385.5 278.5 385.5 279.5 386.5 278.5 386.5 279.5 387.5 279.5 387.5 278.5 388.5 279.5 389.5 279.5 390.5 279.5 391.5 279.5 391.5 280.5 392.5 279.5 392.5 280.5 393.5 279.5 393.5 280.5 394.5 280.5 395.5 280.5 396.5 280.5 396.5 281.5 397.5 280.5 397.5 281.5 398.5 281.5 399.5 281.5 399.5 282.5 400.5 282.5 401.5 282.5 402.5 282.5 403.5 283.5 403.5 282.5 404.5 283.5 405.5 283.5 406.5 283.5 406.5 284.5 407.5 284.5 408.5 285.5 408.5 284.5 409.5 285.5 410.5 285.5 411.5 285.5 411.5 286.5 412.5 285.5 412.5 286.5 413.5 286.5 414.5 286.5 415.5 287.5 416.5 287.5 417.5 287.5 417.5 288.5 418.5 288.5 419.5 289.5 420.5 289.5 421.5 289.5 422.5 289.5 422.5 290.5 423.5 290.5 424.5 290.5 424.5 291.5 425.5 291.5 426.5 291.5 427.5 292.5 428.5 292.5 429.5 293.5 430.5 293.5 431.5 293.5 431.5 294.5 432.5 294.5 433.5 294.5 433.5 295.5 434.5 295.5 434.5 296.5 435.5 296.5 435.5 297.5 436.5 297.5 437.5 298.5 438.5 298.5 438.5 299.5 439.5 299.5 439.5 300.5 440.5 300.5 441.5 301.5 442.5 301.5 442.5 302.5 443.5 302.5 444.5 303.5 445.5 304.5 446.5 304.5 446.5 305.5 447.5 305.5 447.5 306.5 448.5 307.5 449.5 308.5 450.5 309.5 450.5 310.5 451.5 310.5 452.5 311.5 452.5 312.5 453.5 312.5 453.5 313.5 454.5 313.5 454.5 314.5 454.5 315.5 455.5 315.5 455.5 316.5 456.5 317.5 456.5 318.5 457.5 319.5 457.5 320.5 458.5 320.5 458.5 321.5 459.5 322.5 459.5 323.5 460.5 323.5 460.5 324.5 461.5 325.5 462.5 326.5 462.5 327.5 463.5 327.5 463.5 328.5 464.5 329.5 464.5 330.5 465.5 330.5 465.5 331.5 466.5 331.5 467.5 332.5 467.5 331.5 468.5 332.5 469.5 332.5 470.5 332.5 471.5 332.5 471.5 331.5 472.5 331.5 473.5 332.5 474.5 332.5 475.5 332.5 475.5 331.5 476.5 331.5 477.5 331.5 478.5 331.5 479.5 332.5 479.5 331.5 480.5 332.5 481.5 332.5 481.5 331.5 482.5 332.5 483.5 332.5 484.5 332.5 485.5 332.5 486.5 332.5 487.5 332.5 487.5 331.5 488.5 331.5 489.5 331.5 489.5 332.5 490.5 332.5 491.5 332.5 492.5 332.5 493.5 332.5 494.5 332.5 494.5 331.5 495.5 332.5 496.5 332.5 497.5 332.5 498.5 332.5 499.5 332.5 499.5 331.5 500.5 331.5 501.5 332.5 502.5 332.5 503.5 332.5 504.5 332.5 505.5 332.5 506.5 331.5 506.5 332.5 507.5 332.5 508.5 332.5 509.5 331.5 509.5 332.5 510.5 332.5 511.5 332.5 512.5 332.5 513.5 331.5 513.5 332.5 514.5 331.5 514.5 332.5 515.5 332.5 516.5 332.5 517.5 332.5 517.5 331.5 518.5 331.5 519.5 331.5 520.5 331.5 521.5 331.5 521.5 332.5 522.5 331.5 522.5 332.5 523.5 332.5 524.5 332.5 525.5 332.5 526.5 332.5 527.5 332.5 528.5 331.5 529.5 332.5 530.5 332.5 531.5 332.5 532.5 332.5 533.5 331.5 534.5 331.5 534.5 332.5 535.5 332.5 536.5 332.5 536.5 331.5 537.5 331.5 537.5 332.5 538.5 332.5 538.5 333.5 539.5 332.5 540.5 332.5 541.5 332.5 542.5 331.5 542.5 332.5 543.5 332.5 544.5 332.5 545.5 332.5 546.5 332.5 546.5 331.5 547.5 331.5 548.5 331.5 548.5 332.5 549.5 332.5 549.5 331.5 550.5 332.5 551.5 332.5 552.5 332.5 552.5 333.5 553.5 332.5 554.5 331.5 555.5 331.5 555.5 332.5 556.5 332.5 557.5 332.5 557.5 331.5 558.5 332.5 558.5 331.5 559.5 331.5 559.5 332.5 560.5 331.5 560.5 332.5 561.5 332.5 561.5 331.5 562.5 331.5 562.5 332.5 563.5 332.5 564.5 332.5 564.5 331.5 565.5 331.5 565.5 332.5 566.5 332.5 567.5 331.5 567.5 332.5 568.5 331.5 568.5 332.5 569.5 331.5 570.5 331.5 570.5 332.5 571.5 332.5 572.5 332.5 573.5 332.5 573.5 331.5 574.5 331.5 575.5 332.5 576.5 332.5" fill="none" stroke="none" marker-start="url(#m)" marker-mid="url(#m)" marker-end="url(#m)"/>
</g>
<path d="M80.5 334 V338.5 M163.5 334 V338.5 M245.5 334 V338.5 M328.5 334 V338.5 M411.5 334 V338.5 M493.5 334 V338.5 M576.5 334 V338.5" stroke="#000" stroke-width="1.111" fill="none"/>
<rect x="75.5" y="332.945" width="4.5" height="1.111"/>
<rect x="75.5" y="285.945" width="4.5" height="1.111"/>
<rect x="80.5" y="247.5" width="496" height="86" fill="none" stroke="#000" stroke-width="1.111" stroke-linejoin="miter"/>
<text x="62" y="337.8">0</text>
<text x="53 61" y="290.8">50</text>
</g>
<g>
<path d="M163.5 342 V427 M245.5 342 V427 M328.5 342 V427 M411.5 342 V427 M493.5 342 V427" stroke="#b0b0b0" stroke-width="1.111" fill="none"/>
<rect x="81" y="387.945" width="495" height="1.111" fill="#b0b0b0"/>
<rect x="81" y="347.945" width="495" height="1.111" fill="#b0b0b0"/>
<g clip-path="url(#c3)">
<path d="M244.0 427.0 L245.0 427.0 L246.0 426.9 L247.0 426.9 L248.0 426.8 L249.0 426.7 L250.0 426.5 L251.0 426.3 L252.0 426.1 L253.0 425.8 L254.0 425.6 L255.0 425.3 L256.0 425.1 L257.0 424.9 L258.0 424.7 L259.0 424.5 L260.0 424.3 L261.0 424.0 L262.0 423.7 L263.0 423.4 L264.0 423.1 L265.0 422.7 L266.0 422.4 L267.0 422.0 L268.0 421.6 L269.0 421.2 L270.0 420.8 L271.0 420.3 L272.0 419.8 L273.0 419.3 L274.0 418.7 L275.0 418.1 L276.0 417.4 L277.0 416.6 L278.0 415.8 L279.0 415.0 L280.0 414.2 L281.0 413.3 L282.0 412.4 L283.0 411.4 L284.0 410.3 L285.0 409.3 L286.0 408.2 L287.0 407.2 L288.0 406.1 L289.0 404.9 L290.0 403.7 L291.0 402.6 L292.0 401.4 L293.0 400.2 L294.0 399.0 L295.0 397.8 L296.0 396.6 L297.0 395.4 L298.0 394.2 L299.0 393.0 L300.0 391.7 L301.0 390.4 L302.0 389.2 L303.0 388.0 L304.0 386.9 L305.0 385.8 L306.0 384.6 L307.0 383.4 L308.0 382.2 L309.0 381.0 L310.0 379.8 L311.0 378.6 L312.0 377.4 L313.0 376.3 L314.0 375.2 L315.0 374.1 L316.0 373.0 L317.0 371.9 L318.0 370.8 L319.0 369.7 L320.0 368.7 L321.0 367.6 L322.0 366.6 L323.0 365.5 L324.0 364.5 L325.0 363.6 L326.0 362.7 L327.0 361.8 L328.0 361.0 L329.0 360.2 L330.0 359.4 L331.0 358.7 L332.0 357.9 L333.0 357.2 L334.0 356.5 L335.0 355.8 L336.0 355.2 L337.0 354.6 L338.0 354.0 L339.0 353.4 L340.0 352.9 L341.0 352.4 L342.0 351.9 L343.0 351.4 L344.0 351.0 L345.0 350.6 L346.0 350.3 L347.0 350.0 L348.0 349.8 L349.0 349.5 L350.0 349.3 L351.0 349.1 L352.0 349.0 L353.0 349.0 L354.0 348.9 L355.0 348.9 L356.0 348.9 L357.0 349.0 L358.0 349.2 L359.0 349.4 L360.0 349.7 L361.0 350.0 L362.0 350.4 L363.0 350.9 L364.0 351.4 L365.0 351.9 L366.0 352.5 L367.0 353.0 L368.0 353.6 L369.0 354.2 L370.0 354.9 L371.0 355.6 L372.0 356.3 L373.0 356.9 L374.0 357.6 L375.0 358.3 L376.0 359.1 L377.0 359.8 L378.0 360.7 L379.0 361.5 L380.0 362.5 L381.0 363.5 L382.0 364.5 L383.0 365.6 L384.0 366.8 L385.0 367.9 L386.0 369.1 L387.0 370.3 L388.0 371.6 L389.0 372.9 L390.0 374.1 L391.0 375.4 L392.0 376.6 L393.0 377.9 L394.0 379.1 L395.0 380.3 L396.0 381.5 L397.0 382.7 L398.0 383.9 L399.0 385.0 L400.0 386.2 L401.0 387.4 L402.0 388.6 L403.0 389.9 L404.0 391.1 L405.0 392.4 L406.0 393.7 L407.0 395.0 L408.0 396.4 L409.0 397.8 L410.0 399.2 L411.0 400.6 L412.0 402.0 L413.0 403.2 L414.0 404.4 L415.0 405.6 L416.0 406.7 L417.0 407.8 L418.0 408.8 L419.0 409.9 L420.0 410.8 L421.0 411.8 L422.0 412.7 L423.0 413.6 L424.0 414.5 L425.0 415.3 L426.0 416.1 L427.0 416.9 L428.0 417.7 L429.0 418.4 L430.0 419.1 L431.0 419.8 L432.0 420.3 L433.0 420.9 L434.0 421.4 L435.0 421.9 L436.0 422.3 L437.0 422.7 L438.0 423.1 L439.0 423.4 L440.0 423.7 L441.0 424.0 L442.0 424.3 L443.0 424.6 L444.0 424.8 L445.0 425.0 L446.0 425.3 L447.0 425.5 L448.0 425.7 L449.0 425.9 L450.0 426.0 L451.0 426.1 L452.0 426.2 L453.0 426.3 L454.0 426.3 L455.0 426.4 L456.0 426.5 L457.0 426.6 L458.0 426.6 L459.0 426.7 L460.0 426.8 L461.0 426.8 L462.0 426.9 L463.0 426.9 L464.0 427.0 L465.0 427.0 L466.0 427.0 L467.0 427.0 L468.0 427.1 L469.0 427.1 L470.0 427.1 L471.0 427.1 L472.0 427.1 L473.0 427.1 L474.0 427.2 L475.0 427.2 L476.0 427.2" stroke="#f00" stroke-width="2.78" fill="none" stroke-linejoin="round" stroke-linecap="square"/>
<path d="M80.5 427.5 81.5 427.5 82.5 427.5 83.5 427.5 84.5 427.5 85.5 427.5 86.5 427.5 87.5 427.5 88.5 427.5 89.5 427.5 90.5 427.5 91.5 427.5 92.5 427.5 93.5 427.5 94.5 427.5 95.5 427.5 96.5 427.5 97.5 427.5 98.5 427.5 99.5 427.5 100.5 427.5 101.5 427.5 102.5 427.5 103.5 427.5 104.5 427.5 105.5 427.5 106.5 427.5 107.5 427.5 108.5 427.5 109.5 427.5 110.5 427.5 111.5 427.5 112.5 427.5 113.5 427.5 114.5 427.5 115.5 427.5 116.5 427.5 117.5 427.5 118.5 427.5 119.5 427.5 120.5 427.5 121.5 427.5 122.5 427.5 123.5 427.5 124.5 427.5 125.5 427.5 126.5 427.5 127.5 427.5 128.5 427.5 129.5 427.5 130.5 427.5 131.5 427.5 132.5 427.5 133.5 427.5 134.5 427.5 135.5 427.5 136.5 427.5 137.5 427.5 138.5 427.5 139.5 427.5 140.5 427.5 141.5 427.5 142.5 427.5 143.5 427.5 144.5 427.5 145.5 427.5 146.5 427.5 147.5 427.5 148.5 427.5 149.5 427.5 150.5 427.5 151.5 427.5 152.5 427.5 153.5 427.5 154.5 427.5 155.5 427.5 156.5 427.5 157.5 427.5 158.5 427.5 159.5 427.5 160.5 427.5 161.5 427.5 162.5 427.5 163.5 427.5 164.5 427.5 165.5 427.5 166.5 427.5 167.5 427.5 168.5 427.5 169.5 427.5 170.5 427.5 171.5 427.5 172.5 427.5 173.5 427.5 174.5 427.5 175.5 427.5 176.5 427.5 177.5 427.5 178.5 427.5 179.5 427.5 180.5 427.5 181.5 427.5 182.5 427.5 183.5 427.5 184.5 427.5 185.5 427.5 186.5 427.5 187.5 427.5 188.5 427.5 189.5 427.5 190.5 427.5 191.5 427.5 192.5 427.5 193.5 427.5 194.5 427.5 195.5 427.5 196.5 427.5 197.5 427.5 198.5 427.5 199.5 427.5 200.5 427.5 201.5 427.5 202.5 427.5 203.5 427.5 204.5 427.5 205.5 427.5 206.5 427.5 207.5 427.5 208.5 427.5 209.5 427.5 210.5 427.5 211.5 427.5 212.5 427.5 213.5 427.5 214.5 427.5 215.5 427.5 216.5 427.5 217.5 427.5 218.5 427.5 219.5 427.5 220.5 427.5 221.5 427.5 222.5 427.5 223.5 427.5 224.5 427.5 225.5 427.5 226.5 427.5 227.5 427.5 228.5 427.5 229.5 427.5 230.5 427.5 231.5 427.5 232.5 427.5 233.5 427.5 234.5 427.5 235.5 427.5 236.5 427.5 237.5 427.5 238.5 427.5 239.5 427.5 240.5 427.5 241.5 427.5 242.5 427.5 243.5 427.5 244.5 427.5 244.5 426.5 245.5 427.5 246.5 427.5 247.5 427.5 248.5 427.5 249.5 426.5 250.5 426.5 250.5 427.5 251.5 426.5 252.5 426.5 253.5 426.5 254.5 426.5 255.5 426.5 256.5 426.5 256.5 425.5 257.5 425.5 257.5 426.5 258.5 425.5 259.5 425.5 260.5 425.5 260.5 424.5 261.5 425.5 261.5 424.5 262.5 424.5 263.5 424.5 264.5 424.5 264.5 423.5 265.5 423.5 266.5 423.5 267.5 423.5 268.5 422.5 269.5 422.5 270.5 422.5 270.5 421.5 271.5 421.5 272.5 421.5 272.5 420.5 273.5 420.5 274.5 419.5 275.5 419.5 275.5 418.5 276.5 418.5 277.5 417.5 278.5 417.5 278.5 416.5 279.5 416.5 279.5 415.5 280.5 415.5 281.5 414.5 282.5 413.5 283.5 413.5 283.5 412.5 284.5 412.5 284.5 411.5 285.5 411.5 285.5 410.5 286.5 410.5 286.5 409.5 287.5 409.5 287.5 408.5 288.5 408.5 288.5 407.5 289.5 407.5 289.5 406.5 290.5 406.5 290.5 405.5 291.5 405.5 291.5 404.5 292.5 403.5 293.5 402.5 294.5 401.5 295.5 400.5 296.5 399.5 297.5 398.5 297.5 397.5 298.5 397.5 298.5 396.5 299.5 396.5 299.5 395.5 300.5 395.5 300.5 394.5 301.5 394.5 302.5 393.5 302.5 392.5 303.5 392.5 303.5 391.5 304.5 391.5 304.5 390.5 305.5 389.5 305.5 390.5 306.5 389.5 306.5 388.5 307.5 388.5 307.5 387.5 308.5 387.5 308.5 386.5 309.5 386.5 309.5 385.5 310.5 385.5 310.5 384.5 311.5 384.5 311.5 383.5 312.5 383.5 312.5 382.5 313.5 381.5 314.5 380.5 315.5 379.5 315.5 378.5 316.5 378.5 316.5 377.5 317.5 376.5 318.5 376.5 318.5 375.5 319.5 375.5 319.5 374.5 320.5 373.5 320.5 374.5 320.5 372.5 321.5 373.5 321.5 372.5 322.5 371.5 322.5 370.5 323.5 370.5 323.5 369.5 324.5 369.5 324.5 368.5 325.5 368.5 325.5 367.5 326.5 366.5 327.5 365.5 328.5 365.5 328.5 364.5 329.5 364.5 329.5 363.5 330.5 363.5 330.5 362.5 331.5 362.5 332.5 361.5 332.5 360.5 333.5 360.5 333.5 359.5 334.5 359.5 335.5 358.5 336.5 358.5 336.5 357.5 337.5 357.5 338.5 356.5 338.5 357.5 339.5 356.5 340.5 356.5 340.5 355.5 341.5 355.5 342.5 354.5 343.5 354.5 344.5 353.5 345.5 353.5 346.5 353.5 346.5 352.5 347.5 352.5 348.5 352.5 349.5 352.5 350.5 352.5 351.5 352.5 352.5 351.5 352.5 352.5 353.5 351.5 354.5 352.5 354.5 351.5 355.5 351.5 356.5 351.5 356.5 352.5 357.5 351.5 357.5 352.5 358.5 352.5 359.5 352.5 360.5 352.5 361.5 352.5 362.5 353.5 363.5 353.5 364.5 354.5 365.5 354.5 365.5 355.5 366.5 354.5 366.5 355.5 367.5 355.5 367.5 356.5 368.5 356.5 369.5 356.5 370.5 357.5 371.5 357.5 371.5 358.5 372.5 358.5 372.5 359.5 373.5 359.5 374.5 359.5 374.5 360.5 375.5 360.5 375.5 361.5 376.5 361.5 376.5 362.5 377.5 362.5 378.5 362.5 378.5 363.5 379.5 363.5 379.5 364.5 380.5 364.5 380.5 365.5 381.5 365.5 381.5 366.5 382.5 366.5 382.5 367.5 383.5 367.5 383.5 368.5 384.5 369.5 385.5 370.5 385.5 371.5 386.5 371.5 386.5 372.5 387.5 372.5 387.5 373.5 388.5 374.5 388.5 375.5 389.5 375.5 390.5 376.5 390.5 377.5 391.5 377.5 391.5 378.5 392.5 378.5 392.5 379.5 393.5 380.5 393.5 381.5 394.5 381.5 394.5 382.5 395.5 382.5 395.5 383.5 396.5 383.5 396.5 384.5 397.5 385.5 398.5 386.5 398.5 387.5 399.5 387.5 399.5 388.5 400.5 388.5 400.5 389.5 401.5 389.5 401.5 390.5 402.5 390.5 402.5 391.5 403.5 391.5 403.5 392.5 404.5 392.5 404.5 393.5 405.5 394.5 405.5 395.5 406.5 395.5 406.5 396.5 407.5 396.5 407.5 397.5 408.5 398.5 408.5 399.5 409.5 399.5 409.5 400.5 410.5 401.5 411.5 401.5 411.5 402.5 412.5 403.5 413.5 404.5 413.5 405.5 414.5 405.5 414.5 406.5 415.5 406.5 415.5 407.5 416.5 407.5 416.5 408.5 417.5 408.5 417.5 409.5 418.5 409.5 418.5 410.5 419.5 410.5 419.5 411.5 420.5 411.5 420.5 412.5 421.5 412.5 422.5 413.5 423.5 414.5 424.5 414.5 424.5 415.5 425.5 415.5 425.5 416.5 426.5 416.5 426.5 417.5 427.5 417.5 428.5 418.5 429.5 418.5 429.5 419.5 430.5 419.5 431.5 420.5 432.5 420.5 433.5 421.5 433.5 420.5 434.5 421.5 435.5 421.5 435.5 422.5 436.5 422.5 437.5 422.5 437.5 423.5 438.5 423.5 439.5 423.5 440.5 423.5 440.5 424.5 441.5 424.5 442.5 424.5 443.5 424.5 444.5 424.5 444.5 425.5 445.5 425.5 446.5 425.5 447.5 425.5 448.5 425.5 449.5 425.5 450.5 425.5 450.5 426.5 451.5 426.5 452.5 426.5 452.5 425.5 453.5 426.5 454.5 426.5 455.5 426.5 456.5 426.5 457.5 426.5 458.5 426.5 459.5 426.5 460.5 426.5 461.5 426.5 462.5 426.5 463.5 427.5 463.5 426.5 464.5 426.5 464.5 427.5 465.5 427.5 466.5 426.5 467.5 427.5 467.5 426.5 468.5 427.5 469.5 427.5 470.5 426.5 470.5 427.5 471.5 427.5 471.5 426.5 472.5 427.5 473.5 427.5 474.5 427.5 475.5 427.5 476.5 427.5 477.5 427.5 478.5 427.5 479.5 427.5 480.5 427.5 481.5 427.5 482.5 427.5 483.5 427.5 484.5 427.5 485.5 427.5 486.5 427.5 487.5 427.5 488.5 427.5 489.5 427.5 490.5 427.5 491.5 427.5 492.5 427.5 493.5 427.5 494.5 427.5 495.5 427.5 496.5 427.5 497.5 427.5 498.5 427.5 499.5 427.5 500.5 427.5 501.5 427.5 502.5 427.5 503.5 427.5 504.5 427.5 505.5 427.5 506.5 427.5 507.5 427.5 508.5 427.5 509.5 427.5 510.5 427.5 511.5 427.5 512.5 427.5 513.5 427.5 514.5 427.5 515.5 427.5 516.5 427.5 517.5 427.5 518.5 427.5 519.5 427.5 520.5 427.5 521.5 427.5 522.5 427.5 523.5 427.5 524.5 427.5 525.5 427.5 526.5 427.5 527.5 427.5 528.5 427.5 529.5 427.5 530.5 427.5 531.5 427.5 532.5 427.5 533.5 427.5 534.5 427.5 535.5 427.5 536.5 427.5 537.5 427.5 538.5 427.5 539.5 427.5 540.5 427.5 541.5 427.5 542.5 427.5 543.5 427.5 544.5 427.5 545.5 427.5 546.5 427.5 547.5 427.5 548.5 427.5 549.5 427.5 550.5 427.5 551.5 427.5 552.5 427.5 553.5 427.5 554.5 427.5 555.5 427.5 556.5 427.5 557.5 427.5 558.5 427.5 559.5 427.5 560.5 427.5 561.5 427.5 562.5 427.5 563.5 427.5 564.5 427.5 565.5 427.5 566.5 427.5 567.5 427.5 568.5 427.5 569.5 427.5 570.5 427.5 571.5 427.5 572.5 427.5 573.5 427.5 574.5 427.5 575.5 427.5 576.5 427.5 319.5 383.5 318.5 381.5 325.5 372.5 326.5 374.5 368.5 361.5 372.5 362.5 370.5 360.5 367.5 359.5" fill="none" stroke="none" marker-start="url(#m)" marker-mid="url(#m)" marker-end="url(#m)"/>
</g>
<path d="M80.5 428 V432.5 M163.5 428 V432.5 M245.5 428 V432.5 M328.5 428 V432.5 M411.5 428 V432.5 M493.5 428 V432.5 M576.5 428 V432.5" stroke="#000" stroke-width="1.111" fill="none"/>
<rect x="75.5" y="426.945" width="4.5" height="1.111"/>
<rect x="75.5" y="387.945" width="4.5" height="1.111"/>
<rect x="75.5" y="347.945" width="4.5" height="1.111"/>
<rect x="80.5" y="341.5" width="496" height="86" fill="none" stroke="#000" stroke-width="1.111" stroke-linejoin="miter"/>
<text x="49 57 61" y="432.8">0.0</text>
<text x="49 57 61" y="392.8">0.5</text>
<text x="49 57 61" y="353.8">1.0</text>
</g>
<text x="76" y="448">0</text>
<text x="159" y="448">4</text>
<text x="241" y="448">8</text>
<text x="320 328" y="448">12</text>
<text x="402 410" y="448">16</text>
<text x="485 494" y="448">20</text>
<text x="567 575.3" y="448">24</text>
<text x="328" y="468.3" text-anchor="middle">Hour (UTC)</text>
<text x="328" y="49.3" text-anchor="middle">2025-01-08</text>
<text transform="translate(31.8 101.3) rotate(-90)" text-anchor="middle">[W/m<tspan dy="-5.2" font-size="9.72">2</tspan><tspan dx="1" dy="5.2">]</tspan></text>
<text transform="translate(23.8 195.5) rotate(-90)" text-anchor="middle">[W/m<tspan dy="-5.2" font-size="9.72">2</tspan><tspan dx="1" dy="5.2">]</tspan></text>
<text transform="translate(40.8 290.5) rotate(-90)" text-anchor="middle">[W/m<tspan dy="-5.2" font-size="9.72">2</tspan><tspan dx="1" dy="5.2">]</tspan></text>
<text transform="translate(36.8 384.5) rotate(-90)" text-anchor="middle">[W/m<tspan dy="-5.2" font-size="9.72">2</tspan><tspan dx="1" dy="5.2">]</tspan></text>
<text x="96.3" y="71.6" fill="#ffa500" font-weight="bold">Global Radiation</text>
<text x="96.3" y="167.6" fill="#ffa500" font-weight="bold">Direct Radiation</text>
<text x="96.3" y="263.6" fill="#ffa500" font-weight="bold">Diffuse Radiation</text>
<text x="96.3" y="359.6" fill="#ffa500" font-weight="bold">UVB Radiation</text>
<g>
<rect x="415.5" y="79.5" width="155.0" height="43.0" rx="2.5" fill="#4c4c4c" fill-opacity="0.5" stroke="#3d3d3d" stroke-opacity="0.5" stroke-width="1.11" transform="translate(2.08 2.08)"/>
<rect x="415.5" y="79.5" width="155.0" height="43.0" rx="2.5" fill="#fff" stroke="#ccc" stroke-width="1.11"/>
<path d="M420.5 90.5 H445.5" stroke="#f00" stroke-width="2.78" stroke-linecap="square" fill="none"/>
<polygon transform="translate(432.5 109.5)" points="2.072,0.412 1.756,1.174 1.174,1.756 0.412,2.072 -0.412,2.072 -1.174,1.756 -1.756,1.174 -2.072,0.412 -2.072,-0.412 -1.756,-1.174 -1.174,-1.756 -0.412,-2.072 0.412,-2.072 1.174,-1.756 1.756,-1.174 2.072,-0.412" fill="#00f"/>
<text x="455.25" y="94.4" font-size="12.50">LibRadtran Model</text>
<text x="455 463.1 471.5 479.2" y="113.6" font-size="12.50">BSRN</text>
</g>
</svg>
</body></html>
